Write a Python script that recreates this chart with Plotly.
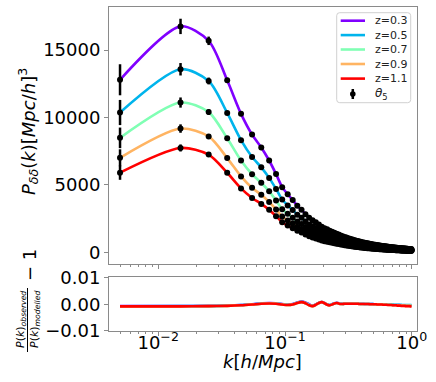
import plotly.graph_objects as go

# k bins [h/Mpc]
k = [0.005, 0.015, 0.025, 0.035, 0.045, 0.055, 0.065, 0.075, 0.085, 0.095,
     0.105, 0.115, 0.125, 0.135, 0.145, 0.155, 0.165, 0.175, 0.185, 0.195,
     0.205, 0.215, 0.225, 0.235, 0.245, 0.255, 0.265, 0.275, 0.285, 0.295,
     0.305, 0.315, 0.325, 0.335, 0.345, 0.355, 0.365, 0.375, 0.385, 0.395,
     0.405, 0.415, 0.425, 0.435, 0.445, 0.455, 0.465, 0.475, 0.485, 0.495,
     0.505, 0.515, 0.525, 0.535, 0.545, 0.555, 0.565, 0.575, 0.585, 0.595,
     0.605, 0.615, 0.625, 0.635, 0.645, 0.655, 0.665, 0.675, 0.685, 0.695,
     0.705, 0.715, 0.725, 0.735, 0.745, 0.755, 0.765, 0.775, 0.785, 0.795,
     0.805, 0.815, 0.825, 0.835, 0.845, 0.855, 0.865, 0.875, 0.885, 0.895,
     0.905, 0.915, 0.925, 0.935, 0.945, 0.955, 0.965, 0.975, 0.985, 0.995]

# P_dd(k) per redshift
pk_z03 = [12800, 16760, 15690, 12760, 10270, 8730, 7780, 6810, 5800, 4830,
          4300, 3880, 3450, 3160, 2830, 2560, 2380, 2230, 2060, 1900,
          1790, 1700, 1600, 1520, 1450, 1380, 1310, 1250, 1190, 1140,
          1090, 1045, 1000, 960, 925, 890, 860, 830, 800, 775,
          750, 725, 705, 685, 665, 645, 628, 610, 595, 580,
          565, 551, 538, 525, 513, 501, 490, 479, 468, 458,
          448, 439, 430, 421, 412, 404, 396, 388, 381, 374,
          367, 360, 353, 347, 341, 335, 329, 323, 318, 313,
          308, 303, 298, 293, 288, 284, 280, 275, 271, 267,
          263, 259, 255, 252, 248, 245, 241, 238, 235, 232]
pk_z05 = [10370, 13580, 12710, 10340, 8320, 7070, 6300, 5520, 4700, 3910,
          3480, 3140, 2790, 2560, 2290, 2070, 1930, 1810, 1670, 1540,
          1450, 1380, 1300, 1230, 1170, 1120, 1060, 1010, 964, 923,
          883, 846, 810, 778, 749, 721, 697, 672, 648, 628,
          608, 587, 571, 555, 539, 522, 509, 494, 482, 470,
          458, 446, 436, 425, 416, 406, 397, 388, 379, 371,
          363, 356, 348, 341, 334, 327, 321, 314, 309, 303,
          297, 292, 286, 281, 276, 271, 266, 262, 258, 254,
          249, 245, 241, 237, 233, 230, 227, 223, 220, 216,
          213, 210, 207, 204, 201, 198, 195, 193, 190, 188]
pk_z07 = [8490, 11110, 10400, 8460, 6810, 5790, 5160, 4520, 3850, 3200,
          2850, 2570, 2290, 2100, 1880, 1700, 1580, 1480, 1370, 1260,
          1190, 1130, 1060, 1010, 961, 915, 869, 829, 789, 756,
          723, 693, 663, 636, 613, 590, 570, 550, 530, 514,
          497, 481, 467, 454, 441, 428, 416, 404, 394, 385,
          375, 365, 357, 348, 340, 332, 325, 318, 310, 304,
          297, 291, 285, 279, 273, 268, 263, 257, 253, 248,
          243, 239, 234, 230, 226, 222, 218, 214, 211, 208,
          204, 201, 198, 194, 191, 188, 186, 182, 180, 177,
          174, 172, 169, 167, 164, 162, 160, 158, 156, 154]
pk_z09 = [7010, 9180, 8600, 6990, 5630, 4780, 4260, 3730, 3180, 2650,
          2360, 2130, 1890, 1730, 1550, 1400, 1300, 1220, 1130, 1040,
          981, 932, 877, 833, 795, 756, 718, 685, 652, 625,
          597, 573, 548, 526, 507, 488, 471, 455, 438, 425,
          411, 397, 386, 375, 364, 353, 344, 334, 326, 318,
          310, 302, 295, 288, 281, 275, 269, 262, 256, 251,
          246, 241, 236, 231, 226, 221, 217, 213, 209, 205,
          201, 197, 193, 190, 187, 184, 180, 177, 174, 172,
          169, 166, 163, 161, 158, 156, 153, 151, 149, 146,
          144, 142, 140, 138, 136, 134, 132, 130, 129, 127]
pk_z11 = [5910, 7740, 7250, 5900, 4740, 4030, 3590, 3150, 2680, 2230,
          1990, 1790, 1590, 1460, 1310, 1180, 1100, 1030, 952, 878,
          827, 785, 739, 702, 670, 638, 605, 578, 550, 527,
          504, 483, 462, 444, 427, 411, 397, 383, 370, 358,
          347, 335, 326, 316, 307, 298, 290, 282, 275, 268,
          261, 255, 249, 243, 237, 231, 226, 221, 216, 212,
          207, 203, 199, 195, 190, 187, 183, 179, 176, 173,
          170, 166, 163, 160, 158, 155, 152, 149, 147, 145,
          142, 140, 138, 135, 133, 131, 129, 127, 125, 123,
          122, 120, 118, 116, 115, 113, 111, 110, 109, 107]

# relative error of the measurement, percent
err_pct = [9.0, 3.4, 2.0, 1.4, 1.1, 0.9, 0.75, 0.65, 0.57, 0.5,
           0.43, 0.39, 0.36, 0.33, 0.31, 0.29, 0.27, 0.26, 0.24, 0.23,
           0.22, 0.21, 0.2, 0.19, 0.18, 0.18, 0.17, 0.16, 0.16, 0.15,
           0.15, 0.14, 0.14, 0.13, 0.13, 0.13, 0.12, 0.12, 0.12, 0.11,
           0.11, 0.11, 0.11, 0.1, 0.1, 0.1, 0.1, 0.09, 0.09, 0.09,
           0.09, 0.09, 0.09, 0.08, 0.08, 0.08, 0.08, 0.08, 0.08, 0.08,
           0.07, 0.07, 0.07, 0.07, 0.07, 0.07, 0.07, 0.07, 0.07, 0.07,
           0.06, 0.06, 0.06, 0.06, 0.06, 0.06, 0.06, 0.06, 0.06, 0.06,
           0.05, 0.05, 0.05, 0.05, 0.05, 0.05, 0.05, 0.05, 0.05, 0.05,
           0.05, 0.05, 0.05, 0.05, 0.05, 0.05, 0.05, 0.05, 0.05, 0.05]

# P_obs/P_model - 1, in units of 1e-4
res_z03 = [-7, -7, -6, -5, -3, 0, 3, 5, 4, 1,
           -2, 1, 7, 10, 7, 0, -5, -1, 6, 8,
           5, -1, -3, 0, 4, 6, 4, 2, 2, 3,
           3, 3, 3, 3, 2, 2, 2, 2, 2, 2,
           2, 2, 1, 1, 1, 1, 1, 1, 1, 1,
           0, 0, 0, 0, 0, 0, 0, 0, -1, -1,
           -1, -1, -1, -1, -2, -2, -2, -2, -2, -2,
           -2, -2, -3, -3, -3, -3, -3, -3, -3, -3,
           -4, -4, -4, -4, -4, -4, -4, -4, -4, -4,
           -5, -5, -5, -5, -5, -5, -5, -5, -5, -5]
res_z05 = [-8, -7, -7, -5, -3, 0, 3, 4, 3, 0,
           -2, 0, 6, 9, 5, -2, -6, -1, 5, 8,
           4, -1, -3, 0, 3, 5, 3, 2, 1, 2,
           2, 2, 2, 2, 2, 2, 2, 2, 2, 1,
           1, 1, 1, 1, 1, 1, 1, 1, 1, 1,
           0, 0, 0, 0, 0, 0, 0, 0, 0, 0,
           0, 0, -1, -1, -1, -1, -1, -1, -1, -1,
           -1, -1, -2, -2, -2, -2, -2, -2, -2, -2,
           -2, -2, -2, -3, -3, -3, -3, -3, -3, -3,
           -3, -3, -3, -3, -3, -3, -3, -3, -3, -3]
res_z07 = [-8, -8, -7, -6, -4, -1, 2, 3, 3, 0,
           -3, -1, 5, 8, 4, -3, -7, -2, 5, 8,
           4, -2, -4, -1, 3, 5, 3, 1, 1, 2,
           2, 2, 2, 2, 2, 2, 2, 2, 2, 1,
           1, 1, 1, 1, 1, 1, 1, 0, 0, 0,
           0, 0, 0, 0, 0, 0, -1, -1, -1, -1,
           -1, -1, -1, -2, -2, -2, -2, -2, -2, -2,
           -3, -3, -3, -3, -3, -3, -3, -4, -4, -4,
           -4, -4, -4, -4, -4, -4, -5, -5, -5, -5,
           -5, -5, -5, -5, -5, -5, -5, -5, -5, -5]
res_z09 = [-8, -8, -7, -6, -4, -1, 2, 3, 2, -1,
           -3, -1, 5, 8, 4, -4, -7, -2, 5, 8,
           4, -2, -4, -1, 3, 5, 3, 1, 1, 2,
           2, 2, 2, 2, 2, 2, 2, 2, 1, 1,
           1, 1, 1, 1, 1, 1, 1, 0, 0, 0,
           0, 0, 0, -1, -1, -1, -1, -1, -1, -1,
           -2, -2, -2, -2, -2, -2, -3, -3, -3, -3,
           -3, -3, -4, -4, -4, -4, -4, -4, -4, -5,
           -5, -5, -5, -5, -5, -5, -5, -6, -6, -6,
           -6, -6, -6, -6, -6, -6, -6, -6, -6, -6]
res_z11 = [-8, -8, -7, -6, -4, -1, 2, 3, 2, -1,
           -3, -1, 5, 8, 4, -4, -7, -2, 5, 8,
           4, -2, -4, -1, 3, 5, 3, 1, 1, 2,
           2, 2, 2, 2, 2, 2, 2, 2, 1, 1,
           1, 1, 1, 1, 1, 1, 0, 0, 0, 0,
           0, 0, 0, -1, -1, -1, -1, -1, -1, -2,
           -2, -2, -2, -2, -3, -3, -3, -3, -3, -3,
           -4, -4, -4, -4, -4, -4, -5, -5, -5, -5,
           -5, -5, -6, -6, -6, -6, -6, -6, -6, -7,
           -7, -7, -7, -7, -7, -7, -7, -8, -8, -8]

labels = ["z=0.3", "z=0.5", "z=0.7", "z=0.9", "z=1.1"]
colors = ["#8000ff", "#00b4ec", "#80ffb4", "#ffb462", "#ff0000"]
pks = [pk_z03, pk_z05, pk_z07, pk_z09, pk_z11]
residuals = [res_z03, res_z05, res_z07, res_z09, res_z11]

FONT = "DejaVu Sans"
AXC = "#8a8a8a"

# figure geometry in pixels
W, H = 436, 382
L, R, T, B = 109, 19, 7, 51


def px(X):
    return (X - L) / (W - L - R)


def py(Y):
    return (H - B - Y) / (H - T - B)


fig = go.Figure()

# model curves
for pk, c, lab in zip(pks, colors, labels):
    fig.add_trace(go.Scatter(x=k, y=pk, mode="lines", name=lab,
                             line=dict(color=c, width=2.6, shape="spline", smoothing=0.8),
                             showlegend=False, xaxis="x", yaxis="y"))

# measured points with errors
for pk in pks:
    errs = [p * e / 100 for p, e in zip(pk, err_pct)]
    fig.add_trace(go.Scatter(x=k, y=pk, mode="markers",
                             marker=dict(color="black", size=6),
                             error_y=dict(type="data", array=errs, color="black",
                                          thickness=2.5, width=0),
                             showlegend=False, xaxis="x", yaxis="y"))

# residual panel
for res, c in zip(residuals, colors):
    fig.add_trace(go.Scatter(x=k, y=res, mode="lines",
                             line=dict(color=c, width=2.6, shape="spline", smoothing=0.8),
                             showlegend=False, xaxis="x2", yaxis="y2"))

minor_k = [m * 10.0 ** e for e in (-3, -2, -1) for m in range(2, 10)]
minor_k = [v for v in minor_k if v > 0.0041]

xcommon = dict(type="log", range=[-2.388, 0.041], showline=True, linecolor=AXC,
               linewidth=1, mirror=True, showgrid=False, zeroline=False,
               automargin=False,
               ticks="outside", ticklen=4, tickcolor=AXC, tickwidth=1,
               tickvals=[0.01, 0.1, 1],
               minor=dict(ticks="outside", ticklen=2, tickcolor=AXC, tickwidth=1,
                          tickvals=minor_k, showgrid=False))

ycommon = dict(showline=True, linecolor=AXC, linewidth=1, mirror=True,
               showgrid=False, zeroline=False, automargin=False,
               ticks="outside", ticklen=4, tickcolor=AXC, tickwidth=1,
               tickfont=dict(size=18))

fig.update_layout(
    width=W, height=H,
    margin=dict(l=L, r=R, t=T, b=B, autoexpand=False),
    paper_bgcolor="white", plot_bgcolor="white",
    font=dict(family=FONT, color="black", size=18),
    xaxis=dict(xcommon, anchor="y", showticklabels=False),
    xaxis2=dict(xcommon, anchor="y2", matches="x",
                ticktext=["10<sup>\u22122</sup>", "10<sup>\u22121</sup>", "10<sup>0</sup>"],
                tickfont=dict(size=18), ticklabelstandoff=-9),
    yaxis=dict(ycommon, domain=[py(264), 1], range=[-870, 18200],
               tickvals=[0, 5000, 10000, 15000],
               ticktext=["0", "5000", "10000", "15000"]),
    yaxis2=dict(ycommon, domain=[0, py(277)], range=[-101, 103],
                tickvals=[-100, 0, 100],
                ticktext=["\u22120.01", "0.00", "0.01"]),
)

ann = []
# axis titles
ann.append(dict(x=px(262), y=py(361), xref="paper", yref="paper",
                text="<i>k</i>[<i>h</i>/<i>Mpc</i>]", showarrow=False,
                font=dict(size=18), xanchor="center", yanchor="middle"))
ann.append(dict(x=px(28), y=py(132), xref="paper", yref="paper", textangle=-90,
                text="<i>P</i><sub><i>\u03b4\u03b4</i></sub>(<i>k</i>)[<i>Mpc</i>/<i>h</i>]<sup>3</sup>",
                showarrow=False, font=dict(size=18), xanchor="center", yanchor="middle"))
ann.append(dict(x=px(21), y=py(320), xref="paper", yref="paper", textangle=-90,
                text="<i>P</i>(<i>k</i>)<sub><i>observed</i></sub>",
                showarrow=False, font=dict(size=11), xanchor="center", yanchor="middle"))
ann.append(dict(x=px(35), y=py(320), xref="paper", yref="paper", textangle=-90,
                text="<i>P</i>(<i>k</i>)<sub><i>modelled</i></sub>",
                showarrow=False, font=dict(size=11), xanchor="center", yanchor="middle"))
ann.append(dict(x=px(29), y=py(265), xref="paper", yref="paper", textangle=-90,
                text="\u2212 1", showarrow=False, font=dict(size=18),
                xanchor="center", yanchor="middle"))

shapes = [dict(type="line", xref="paper", yref="paper",
               x0=px(27.5), x1=px(27.5), y0=py(288), y1=py(352),
               line=dict(color="black", width=1))]

# legend box
bx0, bx1, by0, by1, r = 336.7, 410.7, 12.7, 102.7, 3
path = (f"M {px(bx0 + r)},{py(by0)} L {px(bx1 - r)},{py(by0)} "
        f"Q {px(bx1)},{py(by0)} {px(bx1)},{py(by0 + r)} "
        f"L {px(bx1)},{py(by1 - r)} Q {px(bx1)},{py(by1)} {px(bx1 - r)},{py(by1)} "
        f"L {px(bx0 + r)},{py(by1)} Q {px(bx0)},{py(by1)} {px(bx0)},{py(by1 - r)} "
        f"L {px(bx0)},{py(by0 + r)} Q {px(bx0)},{py(by0)} {px(bx0 + r)},{py(by0)} Z")
shapes.append(dict(type="path", path=path, xref="paper", yref="paper",
                   fillcolor="rgba(255,255,255,0.8)", line=dict(color="#d0d0d0", width=1)))

rows = [20.7, 35.1, 49.5, 64.0, 78.6, 94.0]
for Y, c, lab in zip(rows, colors, labels):
    shapes.append(dict(type="line", xref="paper", yref="paper",
                       x0=px(340.7), x1=px(365), y0=py(Y), y1=py(Y),
                       line=dict(color=c, width=2.6)))
    ann.append(dict(x=px(372.5), y=py(Y), xref="paper", yref="paper", text=lab,
                    showarrow=False, font=dict(size=11, color="#222"),
                    xanchor="left", yanchor="middle"))

Y = rows[5]
shapes.append(dict(type="line", xref="paper", yref="paper",
                   x0=px(352.8), x1=px(352.8), y0=py(Y - 5), y1=py(Y + 5),
                   line=dict(color="black", width=2.5)))
shapes.append(dict(type="circle", xref="paper", yref="paper", fillcolor="black",
                   x0=px(350), x1=px(355.6), y0=py(Y - 2.8), y1=py(Y + 2.8),
                   line=dict(color="black", width=0)))
ann.append(dict(x=px(372.5), y=py(Y), xref="paper", yref="paper",
                text="<i>\u03b8</i><sub>5</sub>", showarrow=False,
                font=dict(size=12, color="#222"), xanchor="left", yanchor="middle"))

fig.update_layout(annotations=ann, shapes=shapes)

# the page body has a default 8px margin; drop it so the figure sits at the corner
fig.write_html("out.html", config={"displayModeBar": False},
               post_script="document.body.style.margin='0';document.body.style.overflow='hidden';")
